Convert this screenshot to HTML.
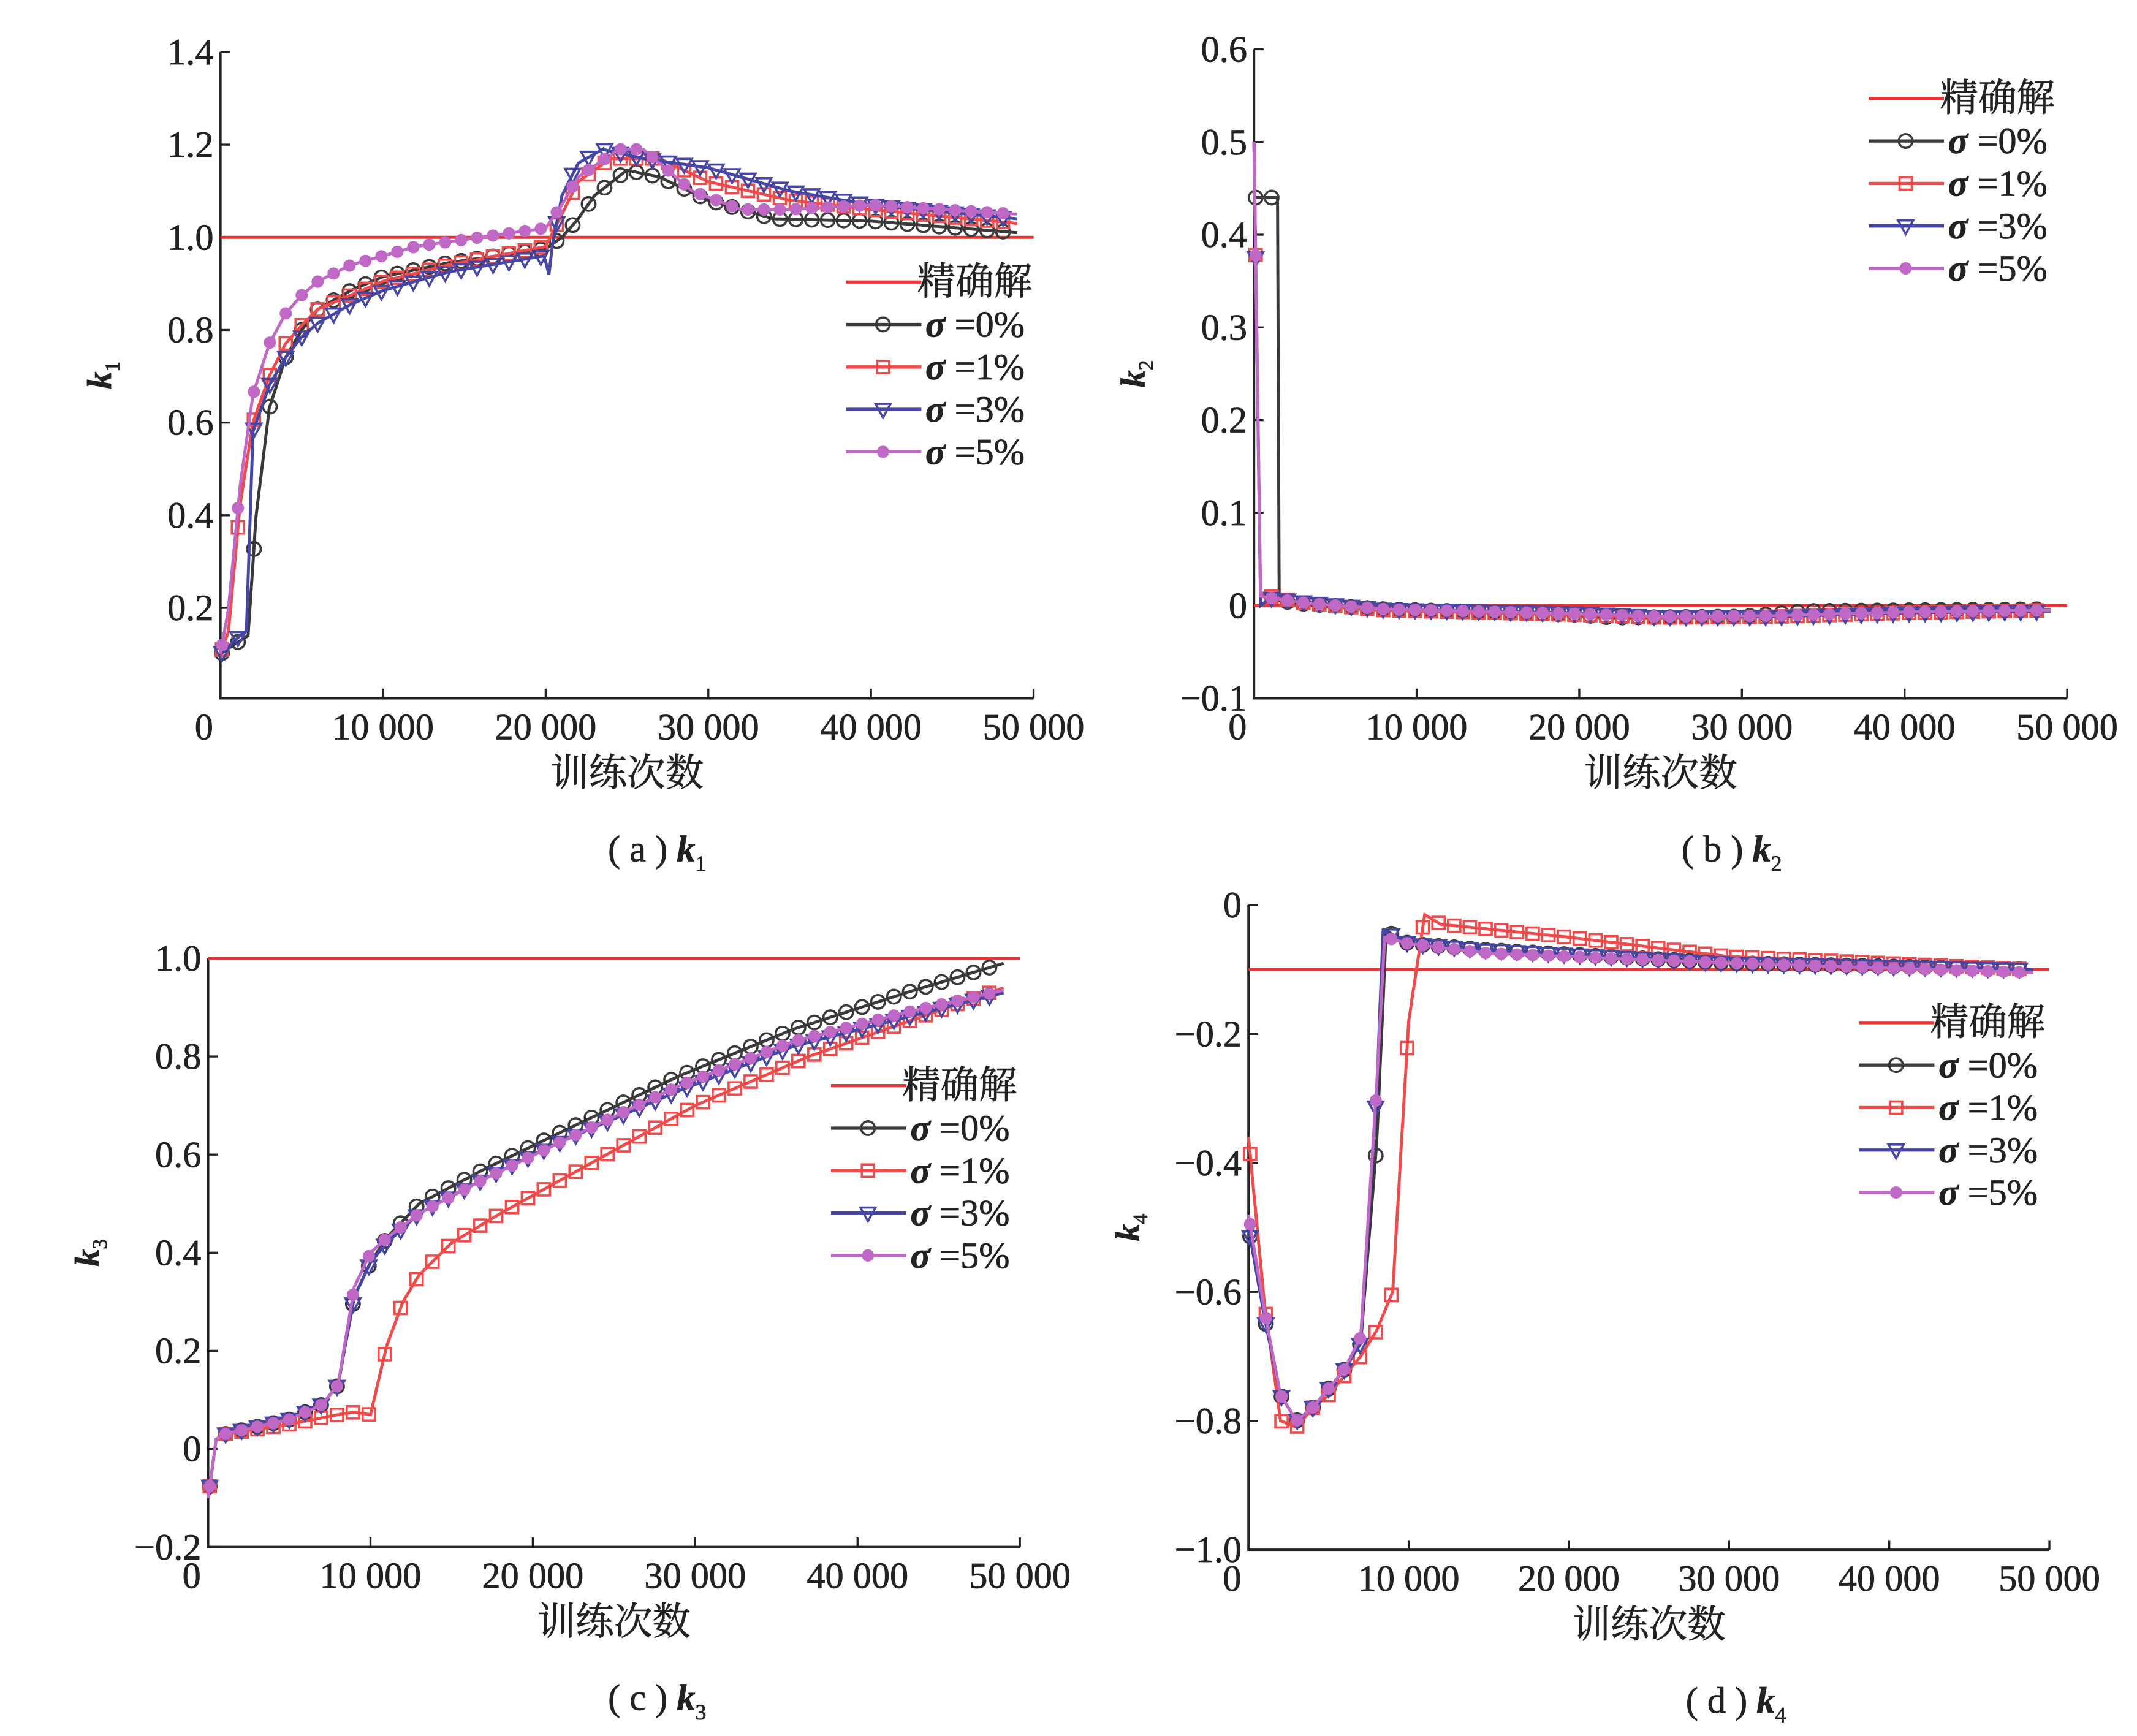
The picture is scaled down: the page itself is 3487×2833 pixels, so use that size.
<!DOCTYPE html>
<html><head><meta charset="utf-8"><style>
html,body{margin:0;padding:0;background:#fff;}
svg{display:block;}
text{font-family:"Liberation Serif","Noto Serif CJK SC",serif;fill:#222;stroke:#222;stroke-width:0.35;}
</style></head><body>
<svg id="s" width="3487" height="2833" viewBox="0 0 1561 1268" preserveAspectRatio="none" xmlns="http://www.w3.org/2000/svg"></svg>
<script>
const S=document.getElementById('s');let H='';
const COL={b:'#3a3a3a',r:'#f04a4a',u:'#4646a6',m:'#c068c6',e:'#e83535'};
function interp(pts,x){if(x<=pts[0][0])return pts[0][1];for(let i=1;i<pts.length;i++){if(x<=pts[i][0]){const a=pts[i-1],b=pts[i];return a[1]+(b[1]-a[1])*(x-a[0])/(b[0]-a[0]);}}return pts[pts.length-1][1];}
function panel(P){
 const X=v=>P.x0+(P.x1-P.x0)*v/50;const Y=v=>P.yp0+(P.yp1-P.yp0)*(v-P.yv0)/(P.yv1-P.yv0);
 H+=`<path d="M${P.x0} ${P.ytop}V${P.ybot}H${P.x1}" fill="none" stroke="#222" stroke-width="1.8"/>`;
 P.yt.forEach(v=>{const y=Y(v);H+=`<line x1="${P.x0}" x2="${P.x0+7}" y1="${y}" y2="${y}" stroke="#222" stroke-width="1.5"/>`;
  H+=`<text x="${P.x0-5}" y="${y+9}" font-size="27" text-anchor="end">${v<0?'−'+(-v).toFixed(1):v.toFixed(1).replace(/^0\.0$/,'0')}</text>`;});
 [10,20,30,40,50].forEach(v=>{const x=X(v);H+=`<line x1="${x}" x2="${x}" y1="${P.ybot}" y2="${P.ybot-7}" stroke="#222" stroke-width="1.5"/>`;
  H+=`<text x="${x}" y="${P.ybot+30}" font-size="27" text-anchor="middle">${v} 000</text>`;});
 H+=`<text x="${P.x0-12}" y="${P.ybot+30}" font-size="27" text-anchor="middle">0</text>`;
 H+=`<text x="${(P.x0+P.x1)/2}" y="${P.ybot+64}" font-size="28" text-anchor="middle">训练次数</text>`;
 H+=`<text x="${P.cx}" y="${P.ybot+119}" font-size="27" text-anchor="middle">( ${P.lt} ) <tspan font-style="italic" font-weight="bold">k</tspan><tspan font-size="16" dy="7">${P.n}</tspan></text>`;
 H+=`<text transform="translate(${P.x0-80},${(P.ytop+P.ybot)/2}) rotate(-90)" font-size="25" text-anchor="middle"><tspan font-style="italic" font-weight="bold">k</tspan><tspan font-size="15" dy="6">${P.n}</tspan></text>`;
 H+=`<line x1="${P.x0}" x2="${X(P.eEnd||50)}" y1="${Y(P.exact)}" y2="${Y(P.exact)}" stroke="${COL.e}" stroke-width="2.2"/>`;
 ['b','r','u','m'].forEach(k=>{const pts=P.d[k];let d='';
  const xs=[];for(let x=pts[0][0];x<=pts[pts.length-1][0];x+=0.1)xs.push(x);
  const all=[...new Set([...xs,...pts.map(p=>p[0])])].sort((a,b)=>a-b);
  all.forEach((x,i)=>{d+=(i?'L':'M')+X(x).toFixed(1)+' '+Y(interp(pts,x)).toFixed(1);});
  H+=`<path d="${d}" fill="none" stroke="${COL[k]}" stroke-width="2.2"/>`;
  for(let x=0.1;x<=pts[pts.length-1][0]+0.01;x+=0.98){const cx=X(x),cy=Y(interp(pts,x));H+=mk(k,cx,cy);}
 });
 const L=P.leg;const labs=['精确解','0%','1%','3%','5%'];const lk=['e','b','r','u','m'];
 lk.forEach((k,i)=>{const y=L.y+i*L.dy;H+=`<line x1="${L.x}" x2="${L.x+55}" y1="${y}" y2="${y}" stroke="${COL[k]}" stroke-width="2.4"/>`;
  if(k!='e')H+=mk(k,L.x+27,y);
  H+=i==0?`<text x="${L.x+52}" y="${y+9}" font-size="28">${labs[i]}</text>`:`<text x="${L.x+58}" y="${y+9}" font-size="27"><tspan font-style="italic" font-weight="bold">σ</tspan> =${labs[i]}</text>`;});
}
function mk(k,x,y){const c=COL[k];
 if(k=='b')return `<circle cx="${x}" cy="${y}" r="5" fill="none" stroke="${c}" stroke-width="1.6"/>`;
 if(k=='r')return `<rect x="${x-4.5}" y="${y-4.5}" width="9" height="9" fill="none" stroke="${c}" stroke-width="1.6"/>`;
 if(k=='u')return `<path d="M${x-5.5} ${y-4}H${x+5.5}L${x} ${y+6}Z" fill="none" stroke="${c}" stroke-width="1.6"/>`;
 return `<circle cx="${x}" cy="${y}" r="4.5" fill="${c}"/>`;}
panel({x0:161,x1:755,yv0:1.4,yp0:38,yv1:0.2,yp1:444,ytop:38,ybot:510,yt:[0.2,0.4,0.6,0.8,1.0,1.2,1.4],exact:1.0,lt:'a',n:'1',cx:480,
 leg:{x:618,y:206,dy:31},
 d:{b:[[0,0.1],[0.8,0.12],[1.7,0.14],[2.2,0.4],[3,0.63],[4,0.74],[5,0.8],[6,0.845],[8,0.885],[10,0.915],[14,0.945],[20,0.975],[21,1.0],[22,1.04],[23,1.09],[25,1.145],[27,1.13],[30,1.08],[34,1.04],[40,1.035],[49,1.01]],
 r:[[0,0.1],[0.5,0.15],[1.2,0.42],[2,0.6],[3,0.7],[4,0.77],[5,0.81],[6,0.845],[8,0.875],[10,0.905],[14,0.94],[20,0.98],[21,1.05],[22,1.12],[24,1.17],[27,1.17],[30,1.12],[35,1.08],[40,1.06],[49,1.03]],
 u:[[0,0.1],[1.2,0.14],[1.6,0.15],[2,0.58],[3,0.68],[4,0.74],[5,0.785],[6,0.815],[8,0.855],[10,0.885],[14,0.925],[19.9,0.96],[20.2,0.92],[20.4,0.98],[21,1.09],[22,1.16],[23.5,1.19],[26,1.17],[30,1.15],[35,1.1],[40,1.07],[49,1.04]],
 m:[[0,0.1],[0.5,0.2],[1.2,0.46],[2,0.66],[3,0.77],[4,0.835],[5,0.875],[6,0.905],[8,0.94],[12,0.98],[20,1.02],[21,1.07],[22,1.13],[24.5,1.19],[26,1.19],[27,1.16],[29,1.1],[32,1.06],[35,1.06],[40,1.07],[49,1.05]]}});
panel({x0:916,x1:1510,yv0:0.6,yp0:36,yv1:-0.1,yp1:510,ytop:36,ybot:510,yt:[-0.1,0,0.1,0.2,0.3,0.4,0.5,0.6],exact:0,lt:'b',n:'2',cx:1265,
 leg:{x:1365,y:72,dy:31},
 d:{b:[[0,0.5],[0.05,0.44],[1.45,0.44],[1.55,0.005],[3,0.002],[8,-0.004],[20,-0.01],[22,-0.013],[30,-0.012],[34,-0.006],[49,-0.004]],
 r:[[0,0.5],[0.4,0.012],[3,0.003],[8,-0.005],[20,-0.01],[25,-0.013],[32,-0.012],[40,-0.008],[49,-0.005]],
 u:[[0,0.5],[0.4,0.0],[1,0.008],[3,0.004],[8,-0.004],[20,-0.008],[25,-0.012],[32,-0.012],[40,-0.008],[49,-0.006]],
 m:[[0,0.5],[0.4,0.01],[3,0.003],[8,-0.004],[20,-0.009],[25,-0.012],[32,-0.011],[40,-0.007],[49,-0.005]]}});
panel({x0:152,x1:745,yv0:1.0,yp0:700,yv1:-0.2,yp1:1130,ytop:700,ybot:1130,yt:[-0.2,0,0.2,0.4,0.6,0.8,1.0],exact:1.0,lt:'c',n:'3',cx:480,
 leg:{x:607,y:793,dy:31},
 d:{b:[[0,-0.1],[0.5,0.02],[1,0.03],[3,0.045],[5,0.06],[7,0.09],[8,0.13],[9,0.31],[10,0.38],[11,0.43],[13,0.5],[17,0.57],[22,0.65],[29,0.76],[36,0.855],[43,0.93],[49,0.99]],
 r:[[0,-0.1],[0.5,0.02],[1,0.03],[3,0.04],[5,0.05],[8,0.07],[9,0.075],[10,0.07],[11,0.21],[12,0.3],[13,0.355],[15,0.42],[18,0.48],[24,0.59],[30,0.7],[37,0.8],[43,0.87],[49,0.94]],
 u:[[0,-0.1],[0.5,0.02],[1,0.03],[3,0.045],[5,0.06],[7,0.09],[8,0.13],[9,0.31],[10,0.38],[11,0.42],[13,0.48],[17,0.55],[22,0.63],[29,0.73],[36,0.82],[43,0.88],[49,0.93]],
 m:[[0,-0.1],[0.5,0.02],[1,0.03],[3,0.045],[5,0.06],[7,0.09],[8,0.13],[9,0.33],[10,0.4],[11,0.43],[13,0.48],[17,0.55],[22,0.63],[29,0.74],[36,0.83],[43,0.89],[49,0.935]]}});
panel({x0:912,x1:1497,yv0:0,yp0:661,yv1:-1.0,yp1:1132,ytop:661,ybot:1132,yt:[-1.0,-0.8,-0.6,-0.4,-0.2,0],exact:-0.1,lt:'d',n:'4',cx:1268,
 leg:{x:1358,y:747,dy:31},
 d:{b:[[0,-0.5],[1,-0.64],[2,-0.76],[3,-0.8],[4,-0.78],[5,-0.75],[6,-0.72],[7,-0.68],[8,-0.37],[8.6,-0.04],[10,-0.06],[15,-0.07],[30,-0.09],[49,-0.1]],
 r:[[0,-0.36],[1,-0.62],[2,-0.8],[3,-0.81],[4,-0.78],[5,-0.76],[6,-0.73],[7,-0.7],[8,-0.66],[9,-0.6],[10,-0.18],[11,-0.015],[12,-0.03],[20,-0.05],[30,-0.08],[49,-0.1]],
 u:[[0,-0.5],[1,-0.64],[2,-0.76],[3,-0.8],[4,-0.78],[5,-0.75],[6,-0.72],[7,-0.68],[8,-0.29],[8.4,-0.04],[10,-0.06],[15,-0.07],[30,-0.09],[49,-0.1]],
 m:[[0,-0.48],[1,-0.63],[2,-0.76],[3,-0.8],[4,-0.78],[5,-0.75],[6,-0.72],[7,-0.67],[8,-0.28],[8.5,-0.05],[10,-0.06],[15,-0.075],[30,-0.09],[49,-0.105]]}});
S.innerHTML=H;
</script>
</body></html>
